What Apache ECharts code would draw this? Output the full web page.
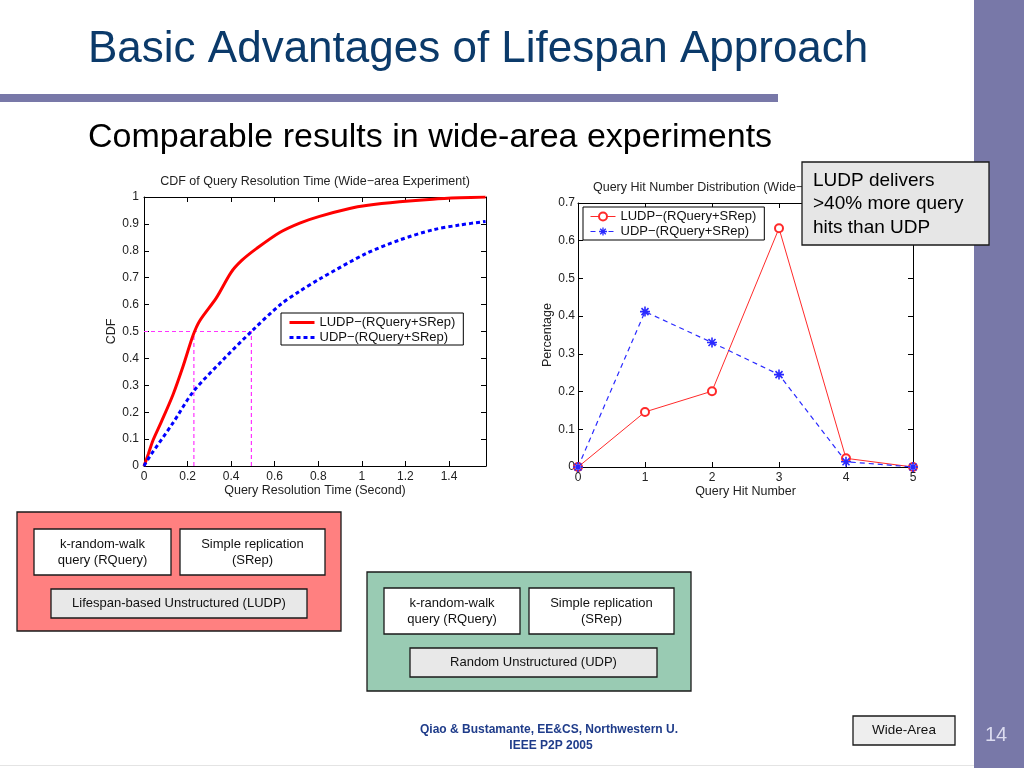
<!DOCTYPE html>
<html><head><meta charset="utf-8">
<script src="https://cdn.jsdelivr.net/npm/echarts@6/dist/echarts.min.js"></script>
<style>html,body{margin:0;padding:0;background:#fff}#c{width:1024px;height:768px}</style>
</head><body><div id="c"></div>
<script>
// ---------------- data ----------------
const seriesNames = ['LUDP\u2212(RQuery+SRep)', 'UDP\u2212(RQuery+SRep)'];
// CDF of query resolution time: [seconds, cdf]
const cdfLudp = [[0,0],[0.02,0.045],[0.041,0.095],[0.08,0.165],[0.133,0.265],[0.179,0.37],[0.225,0.485],[0.256,0.54],[0.332,0.625],[0.4,0.72],[0.45,0.765],[0.516,0.808],[0.623,0.868],[0.715,0.903],[0.806,0.928],[0.944,0.957],[1.02,0.968],[1.173,0.982],[1.326,0.992],[1.45,0.997],[1.568,1.0]];
const cdfUdp = [[0,0],[0.026,0.035],[0.133,0.16],[0.225,0.275],[0.363,0.395],[0.493,0.50],[0.623,0.598],[0.715,0.65],[0.806,0.695],[1.02,0.79],[1.173,0.84],[1.326,0.878],[1.45,0.896],[1.568,0.909]];
const medianTimes = [0.229, 0.493];
const medianLevel = 0.5;
// Query hit number distribution
const hitNumbers = [0, 1, 2, 3, 4, 5];
const hitsLudp = [0, 0.146, 0.201, 0.633, 0.023, 0];
const hitsUdp = [0, 0.412, 0.33, 0.245, 0.014, 0];
// axis ranges / tick steps
const cdfX = {min: 0, max: 1.57, step: 0.2};
const cdfY = {min: 0, max: 1, step: 0.1};
const hitX = {min: 0, max: 5, step: 1};
const hitY = {min: 0, max: 0.7, step: 0.1};
// texts
const slideTitle = 'Basic Advantages of Lifespan Approach';
const slideSubtitle = 'Comparable results in wide-area experiments';
const leftTitle = 'CDF of Query Resolution Time (Wide\u2212area Experiment)';
const rightTitle = 'Query Hit Number Distribution (Wide\u2212area Experiment)';
const callout = 'LUDP delivers\n>40% more query\nhits than UDP';
const compQuery = 'k-random-walk\nquery (RQuery)';
const compRep = 'Simple replication\n(SRep)';
const ludpName = 'Lifespan-based Unstructured (LUDP)';
const udpName = 'Random Unstructured (UDP)';
const footer1 = 'Qiao & Bustamante, EE&CS, Northwestern U.';
const footer2 = 'IEEE P2P 2005';
const scopeLabel = 'Wide-Area';
const pageNo = '14';

// ---------------- rendering ----------------
const FONT = '"Liberation Sans", Arial, Helvetica, sans-serif';
const chart = echarts.init(document.getElementById('c'), null, {renderer: 'canvas'});

function axis(extra) {
  return Object.assign({
    type: 'value',
    axisLine: {show: true, onZero: false, lineStyle: {color: '#000', width: 1}},
    axisTick: {show: true, inside: true, length: 5, lineStyle: {color: '#000'}},
    splitLine: {show: false},
    axisLabel: {color: '#222', fontSize: 12, fontFamily: FONT, margin: 5},
    nameTextStyle: {color: '#222', fontSize: 12.5, fontFamily: FONT}
  }, extra);
}
function rng(r) { return {min: r.min, max: r.max, interval: r.step}; }

function rect(x, y, w, h, fill, z, lw) {
  return {type: 'rect', z: z || 1, shape: {x: x, y: y, width: w, height: h},
    style: {fill: fill, stroke: lw === 0 ? null : '#1a1a1a', lineWidth: lw === undefined ? 1.3 : lw}};
}
function text(t, x, y, size, color, align, extra, z) {
  return {type: 'text', z: z || 2, style: Object.assign({
    text: t, x: x, y: y, fill: color, font: size + 'px ' + FONT,
    align: align, textAlign: align, verticalAlign: 'middle', textVerticalAlign: 'middle'
  }, extra || {})};
}
function box(x, y, w, h, fill, label, size) {
  return [rect(x, y, w, h, fill, 3),
    text(label, x + w / 2, y + h / 2, size || 13, '#111', 'center', {lineHeight: 16}, 4)];
}

const graphics = [].concat(
  [rect(974, 0, 50, 768, '#7878a8', 1, 0),
   rect(0, 94, 778, 8, '#7878a8', 1, 0),
   rect(0, 765, 974, 1, '#e4e4e4', 1, 0),
   text(slideTitle, 88, 50, 44, '#0b3a6a', 'left'),
   text(slideSubtitle, 88, 138, 34, '#000', 'left'),
   text(leftTitle, 315, 182, 12.5, '#222', 'center'),
   text(rightTitle, 746, 188, 12.5, '#222', 'center'),
   rect(802, 162, 187, 83, '#e6e6e6', 20, 1.3),
   text(callout, 813, 204, 19, '#000', 'left', {lineHeight: 23.5, verticalAlign: 'middle'}, 21)],
  [rect(17, 512, 324, 119, '#ff8080', 2)],
  box(34, 529, 137, 46, '#fff', compQuery),
  box(180, 529, 145, 46, '#fff', compRep),
  box(51, 589, 256, 29, '#e8e8e8', ludpName),
  [rect(367, 572, 324, 119, '#99cbb3', 2)],
  box(384, 588, 136, 46, '#fff', compQuery),
  box(529, 588, 145, 46, '#fff', compRep),
  box(410, 648, 247, 29, '#e8e8e8', udpName),
  [text(footer1, 549, 730, 12.5, '#1f3c8a', 'center', {fontWeight: 'bold', font: 'bold 12.5px ' + FONT}),
   text(footer2, 551, 746, 12.5, '#1f3c8a', 'center', {fontWeight: 'bold', font: 'bold 12.5px ' + FONT})],
  box(853, 716, 102, 29, '#eeeeee', scopeLabel, 13.5),
  [text(pageNo, 996, 735, 20, '#dcdcf0', 'center')]
);

// filled asterisk marker (four thin bars)
const asterisk = 'path://M4.2,0L5.8,0L5.8,10L4.2,10Z' +
  'M0,4.2L10,4.2L10,5.8L0,5.8Z' +
  'M0.93,2.07L2.07,0.93L9.07,7.93L7.93,9.07Z' +
  'M7.93,0.93L9.07,2.07L2.07,9.07L0.93,7.93Z';

// median guide lines: horizontal at the median level, vertical at each median time
const guideSeries = [[[0, medianLevel], [medianTimes[1], medianLevel]]]
  .concat(medianTimes.map(t => [[t, 0], [t, medianLevel]]))
  .map(seg => ({type: 'line', xAxisIndex: 0, yAxisIndex: 0, data: seg, symbol: 'none', z: 2,
    lineStyle: {color: '#ff33ff', width: 1.2, type: [4, 3]}, silent: true}));

const option = {
  backgroundColor: '#fff',
  animation: false,
  textStyle: {fontFamily: FONT},
  grid: [
    {left: 144, top: 197, width: 342, height: 269},
    {left: 578, top: 203, width: 335, height: 264}
  ],
  xAxis: [
    axis(Object.assign(rng(cdfX), {gridIndex: 0, name: 'Query Resolution Time (Second)', nameLocation: 'middle', nameGap: 18,
      axisLabel: {color: '#222', fontSize: 12, fontFamily: FONT, margin: 5, showMaxLabel: false}})),
    axis(Object.assign(rng(cdfX), {gridIndex: 0, position: 'top', axisLabel: {show: false}})),
    axis(Object.assign(rng(hitX), {gridIndex: 1, name: 'Query Hit Number', nameLocation: 'middle', nameGap: 18})),
    axis(Object.assign(rng(hitX), {gridIndex: 1, position: 'top', axisLabel: {show: false}}))
  ],
  yAxis: [
    axis(Object.assign(rng(cdfY), {gridIndex: 0, name: 'CDF', nameLocation: 'middle', nameGap: 24})),
    axis(Object.assign(rng(cdfY), {gridIndex: 0, position: 'right', axisLabel: {show: false}})),
    axis(Object.assign(rng(hitY), {gridIndex: 1, name: 'Percentage', nameLocation: 'middle', nameGap: 24,
      axisLabel: {color: '#222', fontSize: 12, fontFamily: FONT, margin: 3}})),
    axis(Object.assign(rng(hitY), {gridIndex: 1, position: 'right', axisLabel: {show: false}}))
  ],
  legend: [
    {
      data: seriesNames.map(n => 'cdf|' + n), formatter: n => n.split('|')[1],
      orient: 'vertical', left: 281, top: 313, padding: [3, 8, 1, 7], itemGap: 2,
      itemWidth: 25, itemHeight: 14, backgroundColor: '#fff', borderColor: '#000', borderWidth: 1, borderRadius: 0,
      lineStyle: {width: 3}, itemStyle: {opacity: 0},
      textStyle: {fontSize: 13, color: '#111', fontFamily: FONT}, selectedMode: false
    },
    {
      data: seriesNames.map(n => 'hit|' + n), formatter: n => n.split('|')[1],
      orient: 'vertical', left: 583, top: 207, padding: [3, 8, 2, 7], itemGap: 2,
      itemWidth: 25, itemHeight: 10, backgroundColor: '#fff', borderColor: '#000', borderWidth: 1, borderRadius: 0,
      lineStyle: {width: 1}, textStyle: {fontSize: 13, color: '#111', fontFamily: FONT}, selectedMode: false
    }
  ],
  graphic: {elements: graphics},
  series: [
    {type: 'line', name: 'cdf|' + seriesNames[0], xAxisIndex: 0, yAxisIndex: 0, data: cdfLudp,
      symbol: 'none', smooth: 0.3, lineStyle: {color: '#ff0000', width: 3}, itemStyle: {color: '#ff0000'}, z: 3},
    {type: 'line', name: 'cdf|' + seriesNames[1], xAxisIndex: 0, yAxisIndex: 0, data: cdfUdp,
      symbol: 'none', smooth: 0.3, lineStyle: {color: '#0000ff', width: 3, type: [4, 3]}, itemStyle: {color: '#0000ff'}, z: 3},
    {type: 'line', name: 'hit|' + seriesNames[0], xAxisIndex: 2, yAxisIndex: 2,
      data: hitNumbers.map((x, i) => [x, hitsLudp[i]]),
      symbol: 'emptyCircle', symbolSize: 8, lineStyle: {color: '#ff2a2a', width: 1},
      itemStyle: {color: '#ff2a2a', borderWidth: 1}, z: 3},
    {type: 'line', name: 'hit|' + seriesNames[1], xAxisIndex: 2, yAxisIndex: 2,
      data: hitNumbers.map((x, i) => [x, hitsUdp[i]]),
      symbol: asterisk, symbolSize: 10, lineStyle: {color: '#2a2aff', width: 1.2, type: [5, 4]},
      itemStyle: {color: '#2a2aff', borderWidth: 0}, z: 3}
  ].concat(guideSeries)
};
chart.setOption(option);
</script></body></html>
